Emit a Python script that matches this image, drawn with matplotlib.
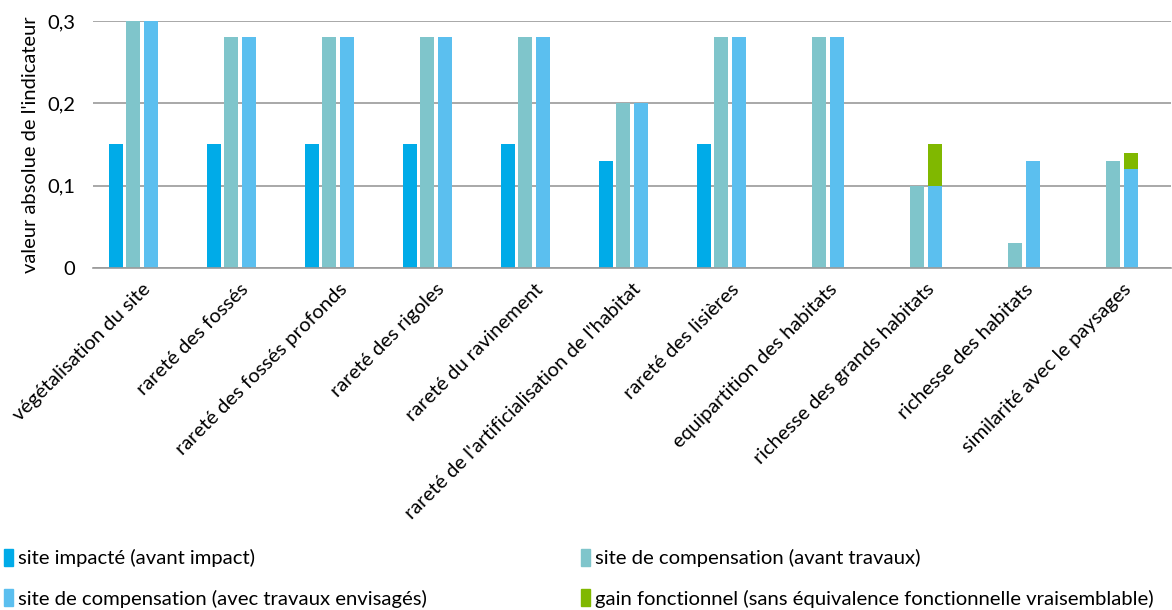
import matplotlib.pyplot as plt
from matplotlib.patches import Patch
import numpy as np

plt.rcParams['font.family'] = ['Lato', 'DejaVu Sans']

categories = [
    "végétalisation du site",
    "rareté des fossés",
    "rareté des fossés profonds",
    "rareté des rigoles",
    "rareté du ravinement",
    "rareté de l'artificialisation de l'habitat",
    "rareté des lisières",
    "equipartition des habitats",
    "richesse des grands habitats",
    "richesse des habitats",
    "similarité avec le paysages",
]

site_impacte = [0.15, 0.15, 0.15, 0.15, 0.15, 0.13, 0.15, 0, 0, 0, 0]
compensation_avant = [0.30, 0.28, 0.28, 0.28, 0.28, 0.20, 0.28, 0.28, 0.10, 0.03, 0.13]
compensation_travaux = [0.30, 0.28, 0.28, 0.28, 0.28, 0.20, 0.28, 0.28, 0.10, 0.13, 0.12]
gain_fonctionnel = [0, 0, 0, 0, 0, 0, 0, 0, 0.05, 0, 0.02]

yticks = [0, 0.1, 0.2, 0.3]
ytick_labels = ["0", "0,1", "0,2", "0,3"]

c_impact = '#00ABE8'
c_avant = '#7FC5CB'
c_travaux = '#5BBFEF'
c_gain = '#80B800'

fig = plt.figure(figsize=(11.72, 6.10), dpi=100)
ax = fig.add_axes([0.0794, 0.5607, 0.9198, 0.4049])

x = np.arange(len(categories))
step = 0.179
w = 0.143

ax.bar(x - 1.5 * step, site_impacte, w, color=c_impact)
ax.bar(x - 0.5 * step, compensation_avant, w, color=c_avant)
ax.bar(x + 0.5 * step, compensation_travaux, w, color=c_travaux)
ax.bar(x + 0.5 * step, gain_fonctionnel, w, bottom=compensation_travaux, color=c_gain)

ax.set_xlim(-0.5, len(categories) - 0.5)
ax.set_ylim(0, 0.3)
ax.set_yticks(yticks)
ax.set_yticklabels(ytick_labels, fontsize=14.5)
ax.yaxis.grid(True, color='#9a9a9a', linewidth=1.2)
ax.set_axisbelow(True)
for s in ['left', 'right', 'top']:
    ax.spines[s].set_visible(False)
ax.spines['bottom'].set_color('#9a9a9a')
ax.spines['bottom'].set_linewidth(1.2)
ax.tick_params(axis='both', length=0)
ax.tick_params(axis='y', pad=13)

ax.set_xticks(x)
ax.set_xticklabels(categories, rotation=45, ha='right', rotation_mode='anchor', fontsize=14.5)
ax.tick_params(axis='x', pad=9)

ax.set_ylabel("valeur absolue de l'indicateur", fontsize=14.5, labelpad=6)

handles = [
    Patch(color=c_impact, label="site impacté (avant impact)"),
    Patch(color=c_travaux, label="site de compensation (avec travaux envisagés)"),
    Patch(color=c_avant, label="site de compensation (avant travaux)"),
    Patch(color=c_gain, label="gain fonctionnel (sans équivalence fonctionnelle vraisemblable)"),
]
fig.legend(handles=handles, loc='lower left', bbox_to_anchor=(0.003, 0.004),
           ncol=2, frameon=False, fontsize=14.6,
           handlelength=0.45, handleheight=0.9, handletextpad=0.25,
           labelspacing=1.08, columnspacing=7.6, borderaxespad=0.0, borderpad=0.0)

fig.savefig('out.png', dpi=100)
